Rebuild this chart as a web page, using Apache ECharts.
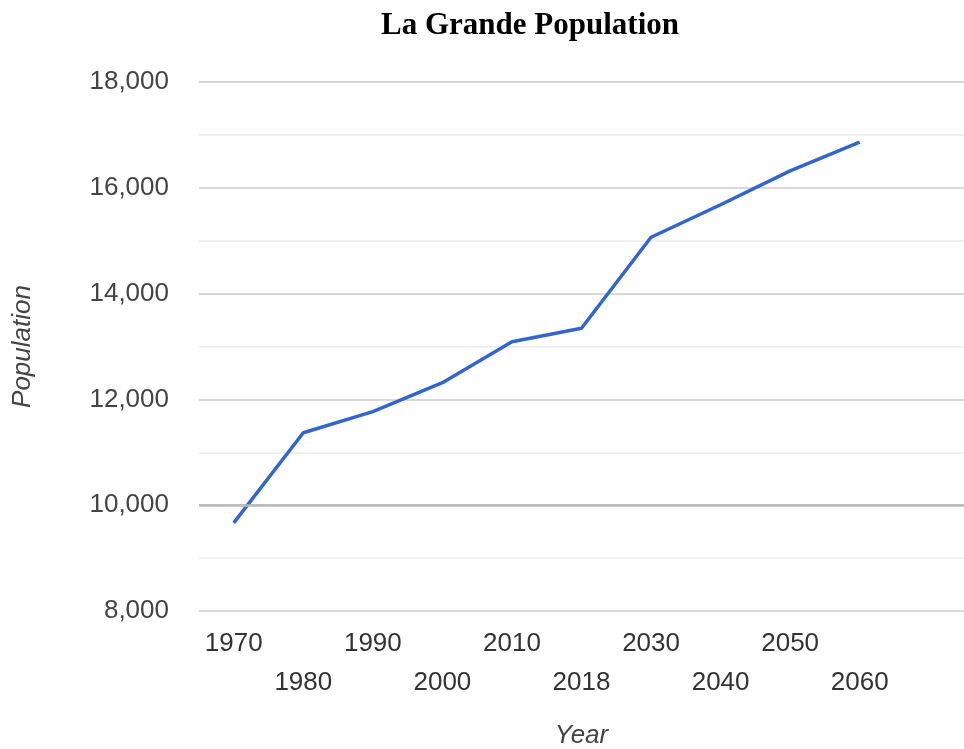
<!DOCTYPE html>
<html>
<head>
<meta charset="utf-8">
<script src="https://cdn.jsdelivr.net/npm/echarts@6/dist/echarts.min.js"></script>
<style>
  html, body { margin: 0; padding: 0; background: #fff; }
  #chart { width: 964px; height: 749px; }
</style>
</head>
<body>
<div id="chart"></div>
<script>
// years on the x axis (last slot is empty, like the source chart)
var years = ['1970', '1980', '1990', '2000', '2010', '2018', '2030', '2040', '2050', '2060', ''];
// population
var population = [9665, 11370, 11770, 12315, 13090, 13345, 15065, 15680, 16320, 16865, null];
var yTicks = [8000, 10000, 12000, 14000, 16000, 18000];

var chart = echarts.init(document.getElementById('chart'));

var option = {
  animation: false,
  title: {
    text: 'La Grande Population',
    left: 525,
    textAlign: 'center',
    top: 5,
    textStyle: {
      fontFamily: 'Liberation Serif',
      fontWeight: 'bold',
      fontSize: 31,
      color: '#000'
    }
  },
  grid: { left: 199, right: 0, top: 82, bottom: 138, outerBoundsMode: 'none' },
  xAxis: {
    type: 'category',
    data: years,
    boundaryGap: true,
    name: 'Year',
    nameLocation: 'middle',
    nameGap: 112,
    nameTextStyle: { fontFamily: 'Liberation Sans', fontStyle: 'italic', fontSize: 26, color: '#444' },
    axisLine: { show: false },
    axisTick: { show: false },
    axisLabel: {
      interval: 0,
      margin: 13,
      fontFamily: 'Liberation Sans',
      fontSize: 26,
      color: '#333',
      lineHeight: 39,
      formatter: function (v, i) { return i % 2 ? '\n' + v : v; }
    }
  },
  yAxis: {
    type: 'value',
    min: yTicks[0],
    max: yTicks[yTicks.length - 1],
    interval: 2000,
    name: 'Population',
    nameLocation: 'middle',
    nameGap: 163,
    nameTextStyle: { fontFamily: 'Liberation Sans', fontStyle: 'italic', fontSize: 26, color: '#444' },
    axisLine: { show: false },
    axisTick: { show: false },
    axisLabel: {
      margin: 30,
      fontFamily: 'Liberation Sans',
      fontSize: 26,
      color: '#444',
      formatter: function (v) { return v.toLocaleString('en-US'); }
    },
    splitLine: { lineStyle: { color: '#cccccc', width: 1.5 } },
    minorTick: { show: false, splitNumber: 2 },
    minorSplitLine: { show: true, lineStyle: { color: '#ebebeb', width: 1.5 } }
  },
  series: [{
    type: 'line',
    data: population,
    symbol: 'none',
    lineStyle: { color: '#3366cc', width: 3.5 },
    markLine: {
      silent: true,
      symbol: 'none',
      label: { show: false },
      lineStyle: { color: '#b8b8b8', width: 2.5, type: 'solid' },
      data: [{ yAxis: 10000 }]
    }
  }]
};

chart.setOption(option);
</script>
</body>
</html>
